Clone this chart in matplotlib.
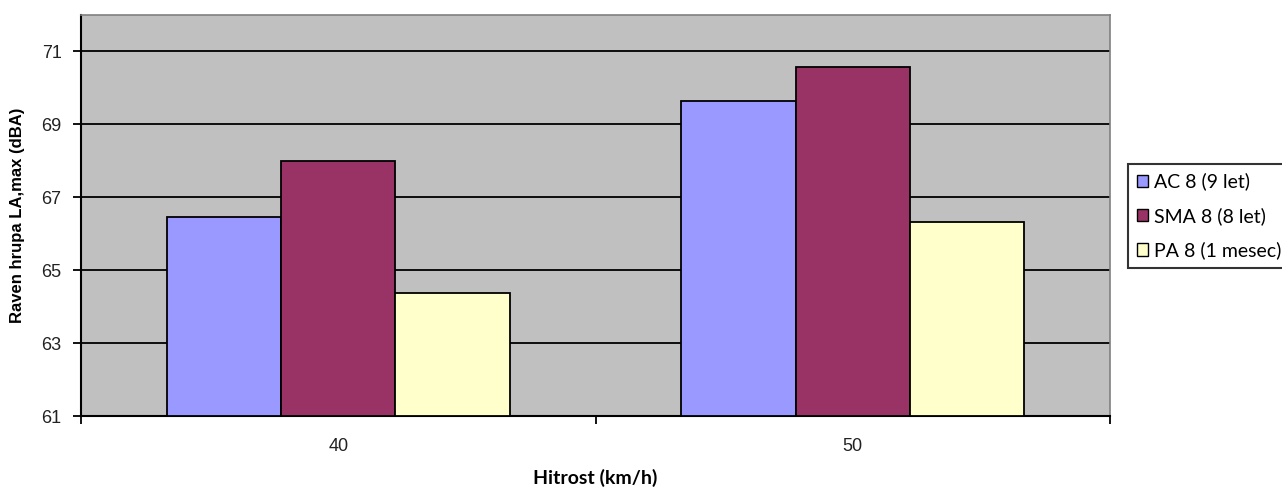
import numpy as np
import matplotlib.pyplot as plt

speeds = ["40", "50"]
series = ["AC 8 (9 let)", "SMA 8 (8 let)", "PA 8 (1 mesec)"]
ac8 = [66.45, 69.65]
sma8 = [68.0, 70.57]
pa8 = [64.37, 66.31]
colors = ["#9999FF", "#993366", "#FFFFCC"]

fig = plt.figure(figsize=(12.82, 4.98), dpi=100)
ax = fig.add_axes([81 / 1282, 1 - 416 / 498, (1110 - 81) / 1282, (416 - 15) / 498])
ax.set_facecolor("#C0C0C0")

x = np.arange(len(speeds))
width = 1 / 4.5  # gap width 150%
for i, (vals, name, col) in enumerate(zip([ac8, sma8, pa8], series, colors)):
    ax.bar(x + (i - 1) * width, np.array(vals) - 61, width, bottom=61,
           color=col, edgecolor="black", linewidth=1.3, label=name, zorder=3)

ax.set_xlim(-0.5, 1.5)
ax.set_ylim(61, 72)
yt = np.arange(61, 72, 2)
ax.set_yticks(yt)
for y in yt[1:]:
    ax.axhline(y, color="black", lw=1.3, zorder=1)

ax.set_xticks(x)
ax.set_xticklabels(speeds)
ax.set_xticks([-0.5, 0.5, 1.5], minor=True)
ax.tick_params(axis="x", which="major", length=0, pad=16)
ax.tick_params(axis="x", which="minor", length=6, width=1.3, direction="out")
ax.tick_params(axis="y", length=6, width=1.3, direction="out", pad=8)
ax.tick_params(axis="both", which="major", labelsize=13,
               labelfontfamily="Liberation Sans", labelcolor="#222222")

for side in ["left", "bottom"]:
    ax.spines[side].set_color("black")
    ax.spines[side].set_linewidth(1.5)
for side in ["top", "right"]:
    ax.spines[side].set_color("#808080")
    ax.spines[side].set_linewidth(1.2)

ax.set_xlabel("Hitrost (km/h)", fontfamily="Lato", fontweight="bold",
              fontsize=14, labelpad=10)
ax.set_ylabel("Raven hrupa LA,max (dBA)", fontfamily="Liberation Sans",
              fontweight="bold", fontsize=12, labelpad=12)

leg = fig.legend(loc="upper left", bbox_to_anchor=(1128 / 1282, 1 - 164 / 498),
                 frameon=True, fancybox=False, edgecolor="black",
                 prop={"family": "Lato", "size": 14}, handlelength=0.6,
                 handleheight=0.6, handletextpad=0.3, labelspacing=0.85,
                 borderpad=0.45, borderaxespad=0)
leg.get_frame().set_linewidth(1.5)
for h in leg.legend_handles:
    h.set_linewidth(1.0)

fig.savefig("out.png", dpi=100)
